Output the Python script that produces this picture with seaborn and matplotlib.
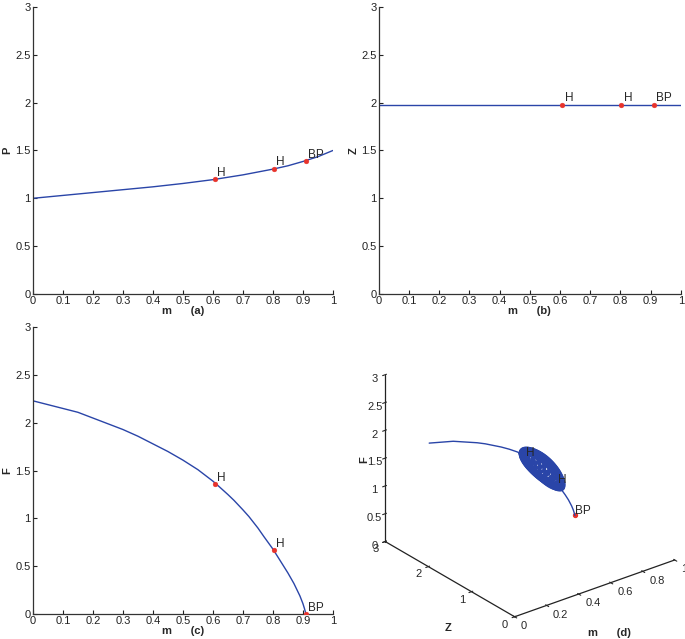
import numpy as np
import pandas as pd
import seaborn as sns
import matplotlib
matplotlib.use("Agg")
import matplotlib.pyplot as plt

# equilibrium branch
m_p = [0.0, 0.1, 0.2, 0.3, 0.4, 0.5, 0.6, 0.7, 0.8, 0.85, 0.9, 0.95, 1.0]
p_vals = [1.0, 1.03, 1.06, 1.09, 1.12, 1.155, 1.195, 1.245, 1.305, 1.34, 1.385, 1.435, 1.5]

m_z = [0.0, 1.0]
z_vals = [1.98, 1.98]

m_f = [0.0, 0.05, 0.1, 0.15, 0.2, 0.25, 0.3, 0.35, 0.4, 0.45, 0.5, 0.55, 0.6,
       0.62, 0.65, 0.67, 0.7, 0.72, 0.75, 0.77, 0.8, 0.82, 0.85, 0.87, 0.89,
       0.9, 0.905, 0.91]
f_vals = [2.23, 2.19, 2.15, 2.11, 2.05, 1.99, 1.93, 1.86, 1.78, 1.70, 1.61, 1.51, 1.39,
          1.335, 1.25, 1.19, 1.09, 1.02, 0.90, 0.81, 0.68, 0.58, 0.43, 0.32, 0.19,
          0.11, 0.06, 0.0]

# special points (Hopf, Hopf, branch point)
pt_labels = ["H", "H", "BP"]
pt_m = [0.607, 0.803, 0.91]
pt_p = [1.20, 1.31, 1.39]
pt_z = [1.98, 1.98, 1.98]
pt_f = [1.36, 0.67, 0.0]

# periodic orbit family between the two Hopf points
orb_m = [0.615, 0.63, 0.645, 0.66, 0.675, 0.69, 0.705, 0.72, 0.735, 0.75, 0.765, 0.78, 0.795]
orb_f = [1.345, 1.30, 1.26, 1.215, 1.17, 1.125, 1.075, 1.02, 0.96, 0.89, 0.83, 0.76, 0.70]
orb_amp = [0.15, 0.22, 0.28, 0.33, 0.36, 0.38, 0.39, 0.38, 0.36, 0.33, 0.28, 0.22, 0.15]

m3_ticks = [0, 0.2, 0.4, 0.6, 0.8, 1]
m3_labels = ["0", "0.2", "0.4", "0.6", "0.8", "1"]
z3_ticks = [0, 1, 2, 3]
z3_labels = ["0", "1", "2", "3"]

blue = "#2a45a8"
red = "#e8332b"

sns.set_style("white")
plt.rcParams["font.family"] = ["Liberation Sans", "DejaVu Sans"]
plt.rcParams["font.size"] = 8
plt.rcParams["xtick.direction"] = "in"
plt.rcParams["ytick.direction"] = "in"

fig = plt.figure(figsize=(6.85, 6.39), dpi=100)

pts = pd.DataFrame({"m": pt_m, "P": pt_p, "Z": pt_z, "F": pt_f, "lab": pt_labels})


def style_2d(ax, ylab, tag):
    ax.set_xlim(0, 1)
    ax.set_ylim(0, 3)
    ax.set_xticks(np.arange(0, 1.01, 0.1))
    ax.set_xticklabels(["0", "0.1", "0.2", "0.3", "0.4", "0.5", "0.6", "0.7", "0.8", "0.9", "1"])
    ax.set_yticks(np.arange(0, 3.01, 0.5))
    ax.set_yticklabels(["0", "0.5", "1", "1.5", "2", "2.5", "3"])
    ax.tick_params(length=3, width=0.8, pad=1.5, labelsize=8, colors="#222222")
    ax.tick_params(axis="x", bottom=True)
    ax.tick_params(axis="y", left=True)
    sns.despine(ax=ax)
    for s in ["left", "bottom"]:
        ax.spines[s].set_color("#333333")
        ax.spines[s].set_linewidth(0.9)
    ax.set_xlabel("m      " + tag, fontweight="bold", fontsize=8, labelpad=0)
    ax.set_ylabel(ylab, fontweight="bold", fontsize=8, labelpad=2)


panels = [
    ([0.048, 0.540, 0.438, 0.449], m_p, p_vals, "P", "(a)"),
    ([0.553, 0.540, 0.441, 0.449], m_z, z_vals, "Z", "(b)"),
    ([0.048, 0.039, 0.438, 0.449], m_f, f_vals, "F", "(c)"),
]
for pos, xs, ys, name, tag in panels:
    ax = fig.add_axes(pos)
    sns.lineplot(x=xs, y=ys, ax=ax, color=blue, lw=1.0)
    sns.scatterplot(data=pts, x="m", y=name, ax=ax, color=red, s=12,
                    marker="o", edgecolor=red, zorder=5)
    for _, r in pts.iterrows():
        ax.text(r["m"] + 0.008, r[name] + 0.005, r["lab"], fontsize=8.5,
                va="bottom")
    style_2d(ax, name, tag)

# (d) 3-D view
ax3 = fig.add_axes([0.521, -0.0055, 0.492, 0.534], projection="3d")
ax3.patch.set_visible(False)
ax3.set_proj_type("ortho")
ax3.view_init(elev=27, azim=-128)
ax3.set_box_aspect((1.085, 1.123, 1.0))
ax3.plot(m_f, [z_vals[0]] * len(m_f), f_vals, color=blue, lw=1.0)
t = np.linspace(0, 2 * np.pi, 60)
for mc, fc, a in zip(orb_m, orb_f, orb_amp):
    ax3.plot(mc + 0 * t, pt_z[0] + a * np.cos(t), fc + 0.6 * a * np.sin(t),
             color=blue, lw=2.6)
ax3.scatter(pt_m, pt_z, pt_f, color=red, s=8, depthshade=False)
for lab, mm, zz, ff in zip(pt_labels, pt_m, pt_z, pt_f):
    ax3.text(mm, zz, ff + 0.02, lab, fontsize=8.5)
ax3.set_xlim(0, 1)
ax3.set_ylim(0, 3)
ax3.set_zlim(0, 3)
ax3.set_xticks(m3_ticks)
ax3.set_xticklabels([])
ax3.set_yticks(z3_ticks)
ax3.set_yticklabels([])
ax3.set_zticks(np.arange(0, 3.01, 0.5))
ax3.set_zticklabels(["0", "0.5", "1", "1.5", "2", "2.5", "3"])
ax3.grid(False)
for axis in (ax3.xaxis, ax3.yaxis, ax3.zaxis):
    axis.set_pane_color((1, 1, 1, 0))
    axis.line.set_color("#222222")
    axis.line.set_linewidth(0.9)
ax3.tick_params(labelsize=8)
ax3.tick_params(axis="z", pad=-3.4)
# tick labels of the floor axes, set beside each tick like the original
for v, s in zip(m3_ticks, m3_labels):
    ax3.text(v, -0.15, -0.1, s, ha="left", va="center", fontsize=8)
for v, s in zip(z3_ticks, z3_labels):
    ax3.text(-0.04, v, -0.1, s, ha="right", va="center", fontsize=8)

fig.text(364 / 685, 1 - 460 / 639, "F", rotation=90, fontweight="bold",
         fontsize=8, ha="center", va="center")
fig.text(448 / 685, 1 - 628 / 639, "Z", fontweight="bold", fontsize=8,
         ha="center", va="center")
fig.text(609 / 685, 1 - 633 / 639, "m      (d)", fontweight="bold", fontsize=8,
         ha="center", va="center")

fig.savefig("out.png", dpi=100)
